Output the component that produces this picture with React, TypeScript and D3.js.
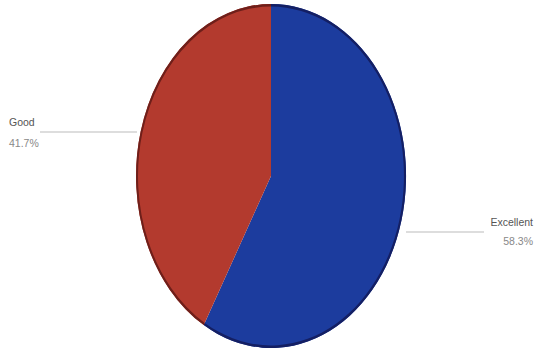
import React from "react";
import * as d3 from "d3";

const categories = ["Excellent", "Good"];
const values = [58.3, 41.7];
const colors = ["#1c3c9e", "#b33a2e"];
const edgeColors = ["#141f63", "#6e1f1a"];

export default function App() {
  const W = 535, H = 361;
  const cx = 271, cy = 176, rx = 135, ry = 172;
  const pie = d3.pie<number>().sort(null).value((d) => d)(values);
  const arc = d3.arc<d3.PieArcDatum<number>>().innerRadius(0).outerRadius(1);
  const rim = d3.arc<d3.PieArcDatum<number>>().innerRadius(0.985).outerRadius(1);
  const labelPos = [
    { line: [[406, 232], [484, 232]], x: 533, y1: 226, y2: 245, anchor: "end" },
    { line: [[137, 132], [40, 132]], x: 9, y1: 126, y2: 147, anchor: "start" },
  ];
  return (
    <svg width={W} height={H} style={{ position: "absolute", left: 0, top: 0, background: "#fff" }}>
      <g transform={`translate(${cx},${cy}) scale(${rx},${ry})`}>
        {pie.map((p, i) => (
          <path key={i} d={arc(p) || ""} fill={colors[i]} />
        ))}
        {pie.map((p, i) => (
          <path key={"r" + i} d={rim(p) || ""} fill={edgeColors[i]} />
        ))}
      </g>
      {pie.map((p, i) => {
        const l = labelPos[i];
        return (
          <g key={i} fontFamily="Arial, Liberation Sans, sans-serif" fontSize={10.5} fill="#888">
            <line x1={l.line[0][0]} y1={l.line[0][1]} x2={l.line[1][0]} y2={l.line[1][1]} stroke="#bbb" strokeWidth={1} />
            <text x={l.x} y={l.y1} textAnchor={l.anchor as any} fill="#555">{categories[i]}</text>
            <text x={l.x} y={l.y2} textAnchor={l.anchor as any}>{values[i].toFixed(1)}%</text>
          </g>
        );
      })}
    </svg>
  );
}
